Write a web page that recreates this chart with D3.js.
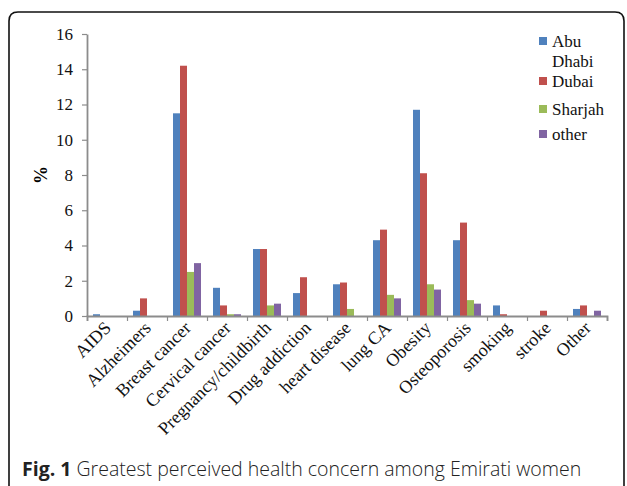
<!DOCTYPE html>
<html>
<head>
<meta charset="utf-8">
<script src="https://cdn.jsdelivr.net/npm/d3@7"></script>
<style>
  body { margin: 0; background: #fff; }
  svg { display: block; }
</style>
</head>
<body>
<svg width="627" height="486"></svg>
<script>
// chart data
var categories = ["AIDS", "Alzheimers", "Breast cancer", "Cervical cancer", "Pregnancy/childbirth",
  "Drug addiction", "heart disease", "lung CA", "Obesity", "Osteoporosis", "smoking", "stroke", "Other"];
var seriesNames = ["Abu Dhabi", "Dubai", "Sharjah", "other"];
var abuDhabi = [0.1, 0.3, 11.5, 1.6, 3.8, 1.3, 1.8, 4.3, 11.7, 4.3, 0.6, 0, 0.4];
var dubai    = [0, 1.0, 14.2, 0.6, 3.8, 2.2, 1.9, 4.9, 8.1, 5.3, 0.1, 0.3, 0.6];
var sharjah  = [0, 0, 2.5, 0.1, 0.6, 0, 0.4, 1.2, 1.8, 0.9, 0, 0, 0];
var other    = [0, 0, 3.0, 0.1, 0.7, 0, 0, 1.0, 1.5, 0.7, 0, 0, 0.3];
var yTicks = [0, 2, 4, 6, 8, 10, 12, 14, 16];
var colors = ["#4f81bd", "#c0504d", "#9bbb59", "#8064a2"];

var series = [abuDhabi, dubai, sharjah, other];

var svg = d3.select("svg");

// rounded frame
svg.append("path")
  .attr("d", "M9,486 L9,21 Q9,12 18,12 L615,12 Q624,12 624,21 L624,486")
  .attr("fill", "none").attr("stroke", "#111").attr("stroke-width", 1.6);

var x0 = 87, x1 = 607, yTop = 34, yBot = 316;
var serif = "Liberation Serif, serif";

var x = d3.scaleBand().domain(categories).range([x0, x1]).paddingInner(0.3).paddingOuter(0.15);
var xs = d3.scaleBand().domain(d3.range(4)).range([0, x.bandwidth()]);
var y = d3.scaleLinear().domain([0, 16]).range([yBot, yTop]);

// bars
var groups = svg.selectAll("g.grp").data(categories).enter()
  .append("g").attr("class", "grp")
  .attr("transform", function(d){ return "translate(" + x(d) + ",0)"; });

groups.selectAll("rect").data(function(d, i){
    return series.map(function(s, k){ return {k: k, v: s[i]}; });
  }).enter()
  .append("rect")
  .attr("x", function(d){ return xs(d.k); })
  .attr("width", xs.bandwidth())
  .attr("y", function(d){ return y(d.v); })
  .attr("height", function(d){ return yBot - y(d.v); })
  .attr("fill", function(d){ return colors[d.k]; });

// y axis
var yAxis = svg.append("g").attr("transform", "translate(" + x0 + ",0)")
  .call(d3.axisLeft(y).tickValues(yTicks).tickSize(5).tickPadding(9).tickSizeOuter(0));
yAxis.select(".domain").attr("stroke", "#8c8c8c").attr("stroke-width", 1.8);
yAxis.selectAll(".tick line").attr("stroke", "#8c8c8c").attr("stroke-width", 1.2);
yAxis.selectAll("text").attr("font-family", serif).attr("font-size", 17).attr("fill", "#111");

// x axis with ticks between groups
var xLine = d3.scaleLinear().domain([0, categories.length]).range([x0, x1]);
var xAxis = svg.append("g").attr("transform", "translate(0," + yBot + ")")
  .call(d3.axisBottom(xLine).tickValues(d3.range(categories.length + 1))
    .tickSize(5).tickFormat(""));
xAxis.select(".domain").attr("stroke", "#8c8c8c").attr("stroke-width", 1.8);
xAxis.selectAll(".tick line").attr("stroke", "#8c8c8c").attr("stroke-width", 1.2);

// category labels
svg.selectAll("text.cat").data(categories).enter()
  .append("text").attr("class", "cat")
  .attr("transform", function(d){ return "translate(" + (x(d) + x.bandwidth() / 2 + 5) + "," + (yBot + 13) + ") rotate(-45)"; })
  .attr("text-anchor", "end")
  .attr("font-family", serif).attr("font-size", 18).attr("fill", "#111")
  .text(function(d){ return d; });

// y label
svg.append("text")
  .attr("transform", "translate(47,175) rotate(-90)")
  .attr("text-anchor", "middle")
  .attr("font-family", serif).attr("font-size", 18).attr("font-weight", "bold")
  .text("%");

// legend
var legendY = [42, 82, 110, 135];
var leg = svg.selectAll("g.leg").data(seriesNames).enter()
  .append("g").attr("class", "leg")
  .attr("transform", function(d, i){ return "translate(539," + legendY[i] + ")"; });
leg.append("rect").attr("x", 0).attr("y", -5).attr("width", 8).attr("height", 8)
  .attr("fill", function(d, i){ return colors[i]; });
leg.each(function(d){
  var t = d3.select(this).append("text")
    .attr("x", 13).attr("y", 5)
    .attr("font-family", serif).attr("font-size", 17).attr("fill", "#111");
  var parts = d === "Abu Dhabi" ? ["Abu", "Dhabi"] : [d];
  parts.forEach(function(p, j){
    t.append("tspan").attr("x", 13).attr("dy", j === 0 ? 0 : 20).text(p);
  });
});

// caption
var cap = svg.append("text").attr("x", 22).attr("y", 476)
  .attr("font-family", "Open Sans, sans-serif").attr("font-size", 19.5).attr("fill", "#222");
cap.append("tspan").attr("font-weight", "bold").text("Fig. 1");
cap.append("tspan").attr("font-weight", 300).text(" Greatest perceived health concern among Emirati women");
</script>
</body>
</html>
